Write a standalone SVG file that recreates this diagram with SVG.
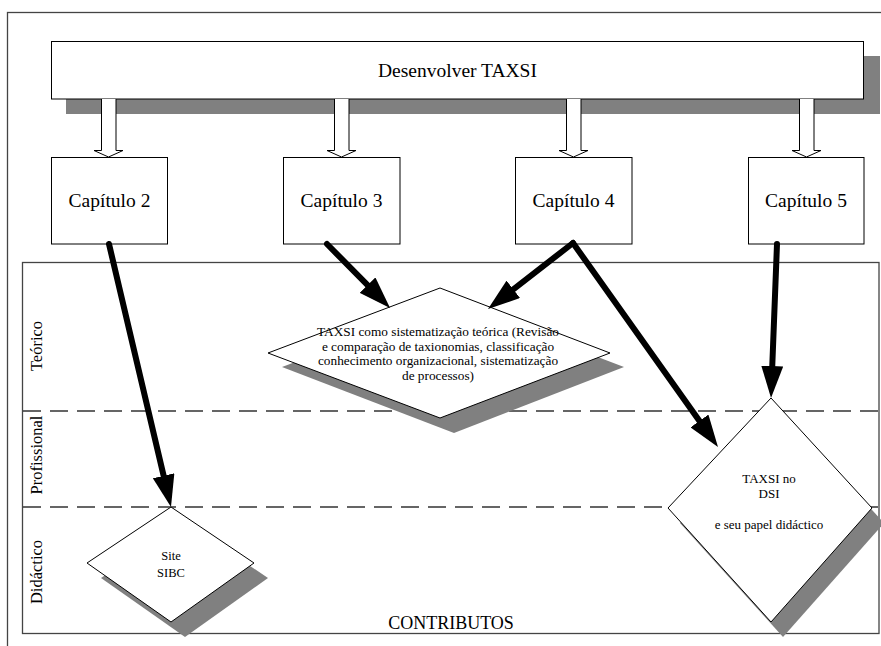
<svg xmlns="http://www.w3.org/2000/svg" width="881" height="646" viewBox="0 0 881 646">
  <defs>
    <style>
      text { font-family: "Liberation Serif", "Times New Roman", serif; fill: #000; }
      .frame { fill: none; stroke: #444; stroke-width: 1.3; }
      .box { fill: #fff; stroke: #000; stroke-width: 1; }
      .shadow { fill: #808080; stroke: none; }
      .shape { fill: #fff; stroke: #000; stroke-width: 1; }
      .lane { fill: none; stroke: #333; stroke-width: 1.3; stroke-dasharray: 18 9; }
      .flow { fill: #fff; stroke: #000; stroke-width: 1; }
      .link { fill: none; stroke: #000; stroke-width: 6; stroke-linecap: round; marker-end: url(#head); }
      .chap { font-size: 19.5px; text-anchor: middle; }
      .lbl { font-size: 16.5px; text-anchor: middle; }
      .small { font-size: 13.3px; text-anchor: middle; }
    </style>
    <marker id="head" markerUnits="userSpaceOnUse" markerWidth="32" markerHeight="22" viewBox="0 0 32 22" refX="12" refY="11" orient="auto">
      <path d="M0,0 L32,11 L0,22 z" fill="#000"/>
    </marker>
  </defs>

  <!-- outer page frame -->
  <rect class="frame" x="7.5" y="12.5" width="900" height="700"/>

  <!-- top process bar -->
  <g id="desenvolver">
    <rect class="shadow" x="66" y="56" width="814" height="58"/>
    <rect class="box" x="51.5" y="41.5" width="812" height="57.5"/>
    <text class="chap" x="457.5" y="76.5">Desenvolver TAXSI</text>
  </g>

  <!-- hollow block arrows from the bar to each chapter -->
  <g id="block-arrows">
    <path class="flow" d="M101.5,99 V150.5 H94 L108.5,157 L123,150.5 H116 V99"/>
    <path class="flow" d="M334.5,99 V150.5 H327 L341.5,157 L356,150.5 H349 V99"/>
    <path class="flow" d="M566.5,99 V150.5 H559 L573.5,157 L588,150.5 H581 V99"/>
    <path class="flow" d="M799.5,99 V150.5 H792 L806.5,157 L821,150.5 H814 V99"/>
  </g>

  <g id="cap2">
    <rect class="box" x="51.5" y="157.5" width="116" height="86.5"/>
    <text class="chap" x="109.5" y="207">Capítulo 2</text>
  </g>
  <g id="cap3">
    <rect class="box" x="283.5" y="157.5" width="116.5" height="86.5"/>
    <text class="chap" x="341.5" y="207">Capítulo 3</text>
  </g>
  <g id="cap4">
    <rect class="box" x="515.5" y="157.5" width="116.5" height="86.5"/>
    <text class="chap" x="573.5" y="207">Capítulo 4</text>
  </g>
  <g id="cap5">
    <rect class="box" x="748.5" y="157.5" width="115.5" height="86.5"/>
    <text class="chap" x="806" y="207">Capítulo 5</text>
  </g>

  <!-- contributions panel with swimlanes -->
  <g id="contributos">
    <rect class="frame" x="22.5" y="262.5" width="856.5" height="371"/>
    <line class="lane" x1="23" y1="411" x2="879" y2="411"/>
    <line class="lane" x1="23" y1="507" x2="879" y2="507"/>
    <text class="lbl" transform="translate(42,346) rotate(-90)">Teórico</text>
    <text class="lbl" transform="translate(42,455) rotate(-90)">Profissional</text>
    <text class="lbl" transform="translate(42,572) rotate(-90)">Didáctico</text>
    <text class="lbl" x="451" y="629" style="font-size:18px">CONTRIBUTOS</text>
  </g>

  <g id="sistematizacao">
    <polygon class="shadow" points="454,302 624,367 454,433 282,367"/>
    <polygon class="shape" points="440,288 610,353 440,418 268,353"/>
    <text class="small" x="438" y="336">TAXSI como sistematização teórica (Revisão</text>
    <text class="small" x="438" y="350.5">e comparação de taxionomias, classificação</text>
    <text class="small" x="438" y="365">conhecimento organizacional, sistematização</text>
    <text class="small" x="438" y="379.5">de processos)</text>
  </g>

  <g id="site-sibc">
    <polygon class="shadow" points="185,522 268,578 185,637 101,578"/>
    <polygon class="shape" points="171,507 254,563 171,622 87,563"/>
    <text class="small" x="171" y="560" style="font-size:12.5px">Site</text>
    <text class="small" x="171" y="577" style="font-size:12.5px">SIBC</text>
  </g>

  <g id="taxsi-dsi">
    <polygon class="shadow" points="783,413 884,523 783,637 680,523"/>
    <polygon class="shape" points="771,398 872,508 771,622 668,508"/>
    <text class="small" x="769" y="483" style="font-size:13px">TAXSI no</text>
    <text class="small" x="769" y="498" style="font-size:13px">DSI</text>
    <text class="small" x="769" y="529" style="font-size:13px">e seu papel didáctico</text>
  </g>

  <!-- thick arrows from chapters to contributions -->
  <g id="connectors">
    <line class="link" x1="109" y1="244" x2="166.4" y2="487.5"/>
    <line class="link" x1="327" y1="244" x2="376" y2="293.7"/>
    <line class="link" x1="573" y1="243" x2="503.8" y2="296.7"/>
    <line class="link" x1="573" y1="243" x2="706.4" y2="430.7"/>
    <line class="link" x1="777" y1="244" x2="771.8" y2="378"/>
  </g>
</svg>
